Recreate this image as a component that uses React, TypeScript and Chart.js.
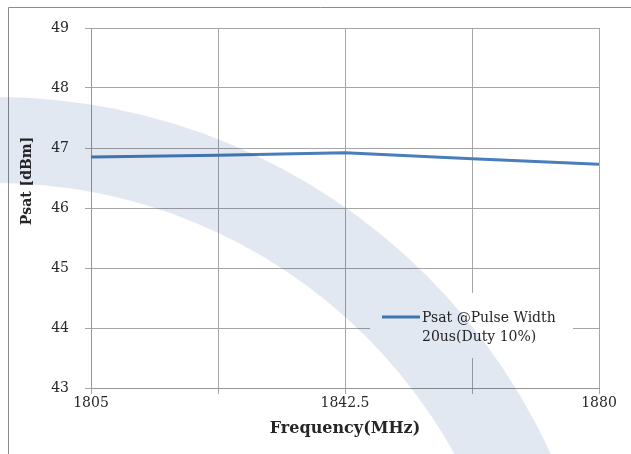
import React, { useEffect, useRef } from 'react';
import { Chart, registerables } from 'chart.js';

Chart.register(...registerables);

// ---- data ----
const frequencies = [1805, 1823.75, 1842.5, 1861.25, 1880];
const psatValues = [46.85, 46.88, 46.92, 46.82, 46.73];
const labeledFrequencies = [1805, 1842.5, 1880];
const yMin = 43;
const yMax = 49;
const yStep = 1;
const xStep = 18.75;
const seriesLabelLines = ['Psat @Pulse Width', '20us(Duty 10%)'];
const xTitle = 'Frequency(MHz)';
const yTitle = 'Psat [dBm]';

const SERIF = '"DejaVu Serif", "Liberation Serif", serif';
const LINE_COLOR = '#4a7ebb';
const TEXT_COLOR = '#262626';
const GRID_COLOR = '#a6a6a6';

const framePlugin = {
  id: 'frame',
  beforeDraw(chart: any) {
    const { ctx, width, height } = chart;
    ctx.save();
    ctx.fillStyle = '#ffffff';
    ctx.fillRect(0, 0, width, height);
    ctx.strokeStyle = '#8c8c8c';
    ctx.lineWidth = 1;
    ctx.beginPath();
    ctx.moveTo(8.5, height + 2);
    ctx.lineTo(8.5, 7.5);
    ctx.lineTo(width + 2, 7.5);
    ctx.stroke();
    ctx.restore();
  },
};

const legendPlugin = {
  id: 'customLegend',
  afterDatasetsDraw(chart: any) {
    const { ctx } = chart;
    const ds = chart.data.datasets[0];
    ctx.save();
    ctx.fillStyle = '#ffffff';
    ctx.fillRect(370, 293, 203, 65);
    ctx.strokeStyle = ds.borderColor;
    ctx.lineWidth = ds.borderWidth;
    ctx.beginPath();
    ctx.moveTo(382, 317);
    ctx.lineTo(420, 317);
    ctx.stroke();
    ctx.fillStyle = TEXT_COLOR;
    ctx.font = `14px ${SERIF}`;
    ctx.textAlign = 'left';
    ctx.textBaseline = 'middle';
    seriesLabelLines.forEach((line, i) => {
      ctx.fillText(line, 422, 318 + i * 19);
    });
    // y axis title
    ctx.translate(27.5, 181);
    ctx.rotate(-Math.PI / 2);
    ctx.font = `bold 14px ${SERIF}`;
    ctx.textAlign = 'center';
    ctx.fillText(yTitle, 0, 0);
    ctx.restore();
  },
};

const watermarkPlugin = {
  id: 'watermark',
  afterDraw(chart: any) {
    const { ctx } = chart;
    ctx.save();
    ctx.globalCompositeOperation = 'multiply';
    ctx.fillStyle = 'rgb(226,232,241)';
    ctx.beginPath();
    ctx.arc(-5, 708, 611, 0, Math.PI * 2);
    ctx.arc(-5, 708, 525, 0, Math.PI * 2, true);
    ctx.fill('evenodd');
    ctx.restore();
  },
};

export default function App() {
  const canvasRef = useRef<HTMLCanvasElement | null>(null);

  useEffect(() => {
    const canvas = canvasRef.current;
    if (!canvas) return;
    const chart = new Chart(canvas, {
      type: 'line',
      data: {
        datasets: [
          {
            label: seriesLabelLines.join(' '),
            data: frequencies.map((f, i) => ({ x: f, y: psatValues[i] })),
            borderColor: LINE_COLOR,
            backgroundColor: LINE_COLOR,
            borderWidth: 3,
            pointRadius: 0,
            tension: 0,
          },
        ],
      },
      options: {
        responsive: false,
        animation: false,
        devicePixelRatio: 1,
        layout: { padding: { left: 0, top: 28, right: 32, bottom: 0 } },
        plugins: {
          legend: { display: false },
          tooltip: { enabled: false },
        },
        scales: {
          x: {
            type: 'linear',
            min: frequencies[0],
            max: frequencies[frequencies.length - 1],
            afterFit(scale: any) {
              scale.height = 66;
            },
            ticks: {
              stepSize: xStep,
              autoSkip: false,
              maxRotation: 0,
              padding: 1,
              color: TEXT_COLOR,
              font: { family: SERIF, size: 14 },
              callback: (v: any) => (labeledFrequencies.includes(Number(v)) ? String(v) : ''),
            },
            grid: { color: GRID_COLOR, tickLength: 6, lineWidth: 1 },
            border: { color: '#969696' },
            title: {
              display: true,
              text: xTitle,
              color: TEXT_COLOR,
              font: { family: SERIF, size: 16, weight: 'bold' },
              padding: { top: 0, bottom: 16 },
            },
          },
          y: {
            type: 'linear',
            min: yMin,
            max: yMax,
            afterFit(scale: any) {
              scale.width = 91;
            },
            ticks: {
              stepSize: yStep,
              padding: 16,
              color: TEXT_COLOR,
              font: { family: SERIF, size: 14 },
            },
            grid: { color: GRID_COLOR, tickLength: 6, lineWidth: 1 },
            border: { color: '#969696' },
          },
        },
      },
      plugins: [framePlugin, legendPlugin, watermarkPlugin],
    } as any);
    return () => chart.destroy();
  }, []);

  return (
    <div style={{ position: 'fixed', left: 0, top: 0, width: 631, height: 454 }}>
      <canvas ref={canvasRef} width={631} height={454} style={{ width: 631, height: 454, display: 'block' }} />
    </div>
  );
}
